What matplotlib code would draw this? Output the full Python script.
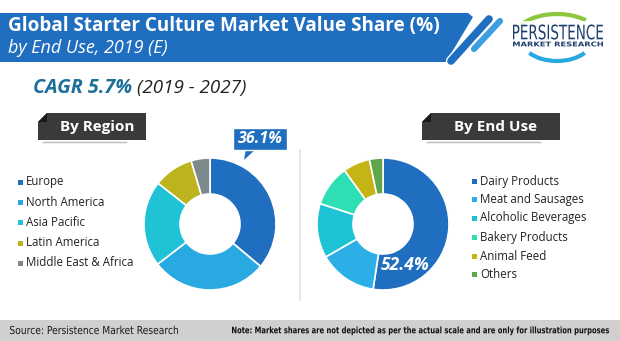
import numpy as np
import matplotlib
matplotlib.use("Agg")
import matplotlib.pyplot as plt
import matplotlib.patheffects as pe
from matplotlib.patches import Polygon, Rectangle, Arc, PathPatch
from matplotlib.textpath import TextPath
from matplotlib.font_manager import FontProperties
from matplotlib.transforms import Affine2D

# Params:
W, H = 620, 341
FONT = "Open Sans"
BLUE = "#1f6ebf"

# Data
title_1 = "Global Starter Culture Market Value Share (%)"
title_2 = "by End Use, 2019 (E)"
cagr_val = "CAGR 5.7%"
cagr_period = "(2019 - 2027)"

region_labels = ["Europe", "North America", "Asia Pacific", "Latin America", "Middle East & Africa"]
region_share = [36.1, 28.5, 21.0, 9.8, 4.6]
region_colors = ["#1f6ebf", "#29a9e1", "#20c3d6", "#bdb31c", "#7d8a8c"]

enduse_labels = ["Dairy Products", "Meat and Sausages", "Alcoholic Beverages",
                 "Bakery Products", "Animal Feed", "Others"]
enduse_share = [52.4, 14.3, 13.3, 10.1, 6.6, 3.3]
enduse_colors = ["#1f6ebf", "#2bafe6", "#1cc3d4", "#2edfb4", "#c4b415", "#5fa64a"]

source_txt = "Source: Persistence Market Research"
note_txt = "Note: Market shares are not depicted as per the actual scale and are only for illustration purposes"

def yy(y):
    # pixel row (top-down) -> data y
    return H - y

def squeezed_text(ax, x0, x1, ymid, s, size, color, weight="normal", family="DejaVu Sans"):
    # text squeezed horizontally to span x0..x1 (pixels), baseline-ish centred on ymid
    tp = TextPath((0, 0), s, size=size, prop=FontProperties(family=family, weight=weight))
    ext = tp.get_extents()
    cap = TextPath((0, 0), "H", size=size, prop=FontProperties(family=family, weight=weight)).get_extents()
    sx = (x1 - x0) / ext.width
    tr = Affine2D().translate(-ext.x0, -cap.y1 / 2).scale(sx, 1).translate(x0, yy(ymid))
    ax.add_patch(PathPatch(tr.transform_path(tp), fc=color, ec="none"))

#%% Figure
fig = plt.figure(figsize=(W / 100, H / 100), dpi=100)
ax = fig.add_axes([0, 0, 1, 1])
ax.set_xlim(0, W)
ax.set_ylim(0, H)
ax.axis("off")

# title banner
ax.add_patch(Polygon([(0, yy(13)), (468, yy(13)), (473, yy(17)), (446, yy(62)), (0, yy(62))],
                     closed=True, fc=BLUE, ec="none"))
white_edge = [pe.Stroke(linewidth=7.5, foreground="white"), pe.Normal()]
ax.plot([489, 451], [yy(19), yy(61)], color=BLUE, lw=5.5, solid_capstyle="round",
        path_effects=white_edge)
ax.plot([500, 474], [yy(21), yy(49)], color="#3d9fe0", lw=4.5, solid_capstyle="round",
        path_effects=white_edge)
ax.text(8, yy(26), title_1, color="white", fontsize=13.6, fontweight="bold",
        family=FONT, va="center", ha="left")
ax.text(8, yy(48), title_2, color="white", fontsize=13, style="italic",
        family=FONT, va="center", ha="left")

# logo
ax.add_patch(Arc((557, yy(37)), 84, 46, theta1=30, theta2=168, color="#8cc63f", lw=3))
ax.add_patch(Arc((557, yy(40)), 70, 42, theta1=205, theta2=335, color="#29a9e1", lw=3))
ax.add_patch(Rectangle((510, yy(49)), 96, 28, fc="white", ec="none", alpha=0.85))
squeezed_text(ax, 513, 603, 32, "PERSISTENCE", 20, "#1c3f6e")
squeezed_text(ax, 513, 603, 44, "MARKET RESEARCH", 6.5, "#1c3f6e", weight="bold")

# CAGR
t = ax.text(33, yy(88), cagr_val + " ", color="#1d6f99", fontsize=14.2, fontweight="bold",
            style="italic", family=FONT, va="center", ha="left")
fig.canvas.draw()
bb = t.get_window_extent().transformed(ax.transData.inverted())
ax.text(bb.x1, yy(88), cagr_period, color="#222222", fontsize=13.6, style="italic",
        family=FONT, va="center", ha="left")

# section tabs
def tab(x0, x1, label):
    ax.add_patch(Polygon([(x0 + 9, yy(113)), (x1, yy(113)), (x1, yy(140)), (x0, yy(140)),
                          (x0, yy(122))], closed=True, fc="#3a3a3a", ec="none"))
    ax.add_patch(Polygon([(x0, yy(122)), (x0 + 9, yy(113)), (x0 + 9, yy(122))],
                         closed=True, fc="#1a1a1a", ec="none"))
    ax.plot([x0 + 5, x1 - 20], [yy(142), yy(142)], color="#bbbbbb", lw=1)
    ax.text((x0 + x1) / 2 + 5, yy(126.5), label, color="white", fontsize=11, fontweight="bold",
            family=FONT, va="center", ha="center")

tab(38, 146, "By Region")
tab(422, 560, "By End Use")

# divider
ax.plot([300, 300], [yy(150), yy(300)], color="#e3e3e3", lw=1.2)

# donuts
def donut(cx, cy, shares, colors):
    ax.pie(shares, colors=colors, center=(cx, yy(cy)), radius=66, startangle=90,
           counterclock=False, wedgeprops=dict(width=36, edgecolor="white", linewidth=1.2),
           frame=True)

donut(210, 224, region_share, region_colors)
donut(383, 224, enduse_share, enduse_colors)
ax.set_xlim(0, W)
ax.set_ylim(0, H)
ax.set_aspect("auto")
ax.axis("off")

# callouts
ax.add_patch(Polygon([(246, yy(149)), (256, yy(149)), (244, yy(160))], closed=True,
                     fc=BLUE, ec="none"))
ax.add_patch(Rectangle((233, yy(150)), 54, 22, fc=BLUE, ec="white", lw=1))
ax.text(260, yy(139), f"{region_share[0]:.1f}%", color="white", fontsize=11.5,
        fontweight="bold", style="italic", family=FONT, va="center", ha="center")
ax.text(405, yy(265), f"{enduse_share[0]:.1f}%", color="white", fontsize=12.5,
        fontweight="bold", style="italic", family=FONT, va="center", ha="center")

# legends
def legend(x, ys, labels, colors):
    for y, lab, c in zip(ys, labels, colors):
        ax.add_patch(Rectangle((x, yy(y) - 2.5), 5, 5, fc=c, ec="none"))
        ax.text(x + 8, yy(y), lab, color="#222222", fontsize=8.3, family=FONT,
                va="center", ha="left")

legend(18, [182, 202, 222, 243, 263], region_labels, region_colors)
legend(472, [181, 199, 218, 237, 256, 274], enduse_labels, enduse_colors)

# footer
ax.add_patch(Rectangle((0, 0), W, yy(320), fc="#d0d0d0", ec="none"))
squeezed_text(ax, 10, 178, 330, source_txt, 11, "#1a1a1a")
squeezed_text(ax, 232, 609, 330, note_txt, 9, "#111111", weight="bold")

fig.savefig("out.png", dpi=100)
